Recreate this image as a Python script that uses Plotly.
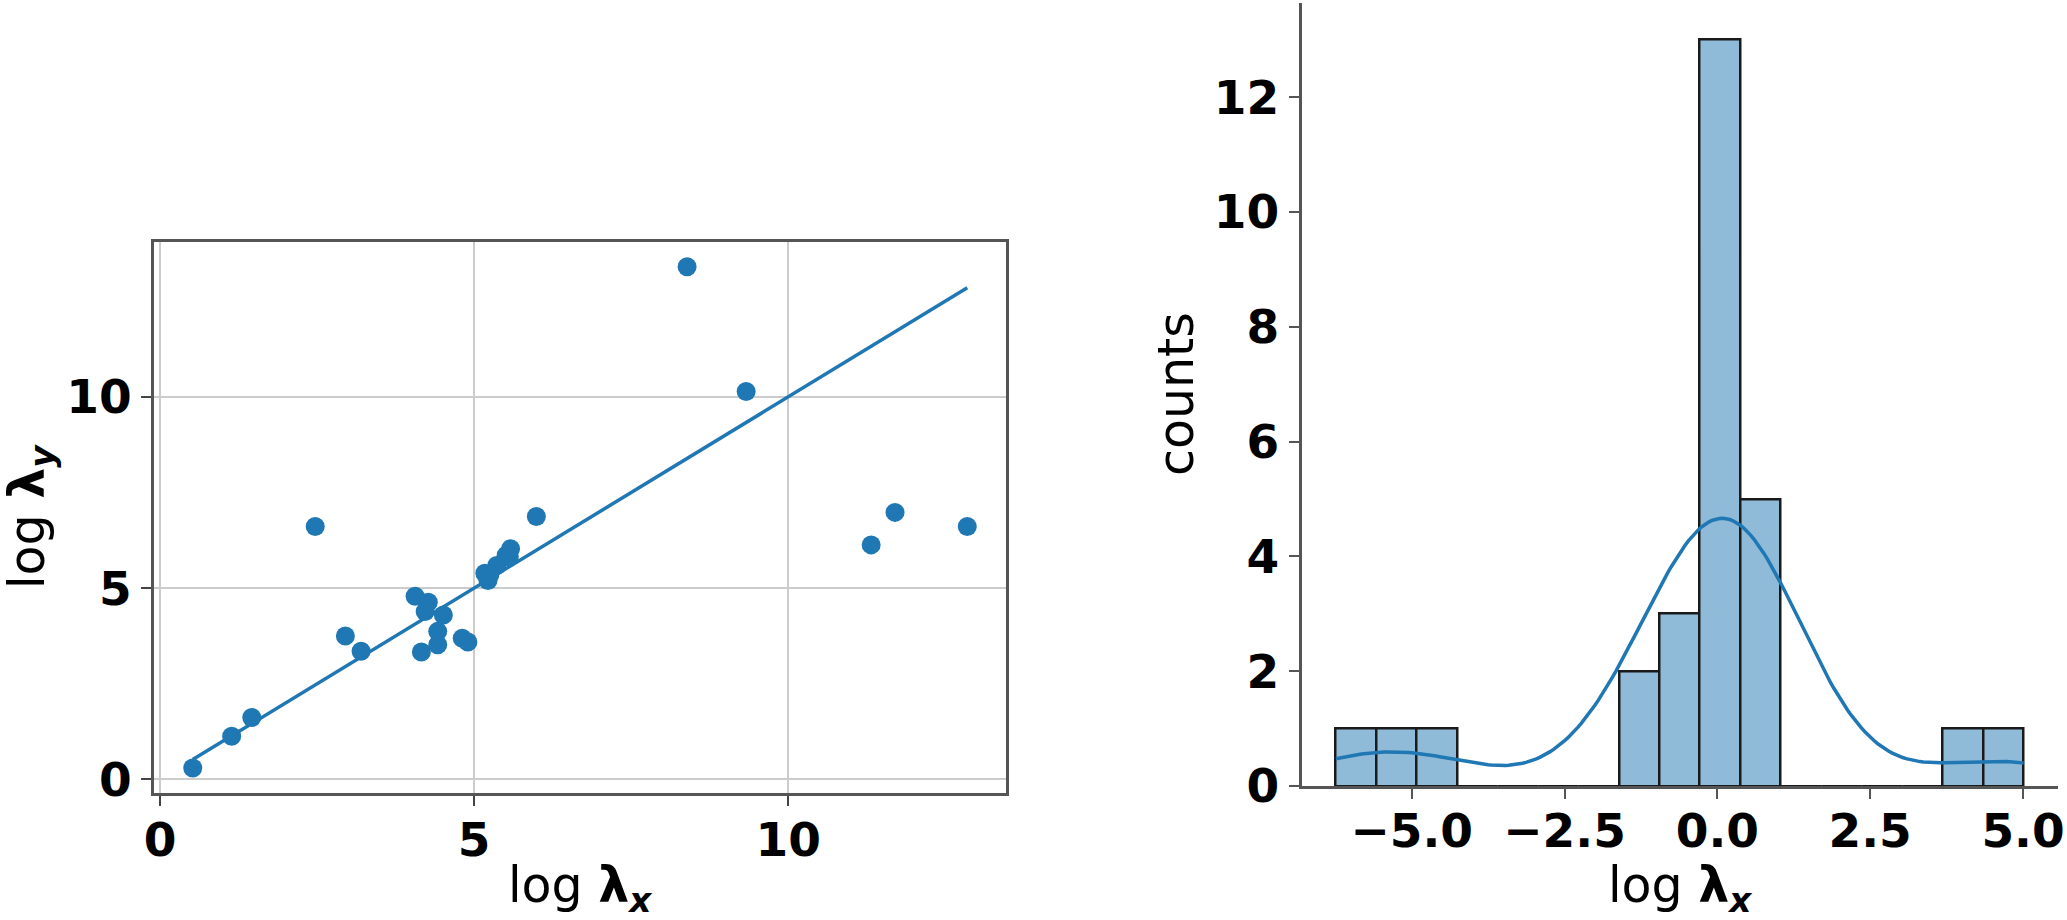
import numpy as np
import plotly.graph_objects as go

W, H = 2067, 920

# log lambda_x / log lambda_y pairs
log_lx = [0.52, 1.14, 1.46, 2.47, 2.95, 3.20, 4.06, 4.16, 4.22, 4.27,
          4.42, 4.42, 4.51, 4.81, 4.90, 5.17, 5.22, 5.36, 5.51, 5.58,
          5.99, 8.39, 9.33, 11.32, 11.70, 12.85, 5.25, 5.56]
log_ly = [0.30, 1.13, 1.62, 6.61, 3.75, 3.35, 4.79, 3.33, 4.39, 4.63,
          3.87, 3.52, 4.30, 3.69, 3.59, 5.39, 5.20, 5.59, 5.86, 6.03,
          6.87, 13.40, 10.14, 6.13, 6.98, 6.61, 5.35, 5.82]
n_bins = 17

lx = np.array(log_lx)
ly = np.array(log_ly)
diff = ly - lx

counts, edges = np.histogram(diff, bins=n_bins)
centers = (edges[:-1] + edges[1:]) / 2
bw = edges[1] - edges[0]

# gaussian kde (scott) scaled to counts, clipped to data range
sd = diff.std(ddof=1) * len(diff) ** (-1 / 5)
grid = np.linspace(diff.min(), diff.max(), 200)
dens = np.exp(-0.5 * ((grid[:, None] - diff[None, :]) / sd) ** 2).sum(axis=1)
dens = dens / (len(diff) * sd * np.sqrt(2 * np.pi))
kde = dens * len(diff) * bw


def px(v):
    return v / W


def py(v):
    return 1 - v / H


blue = "#1f77b4"
tickfont = dict(family="DejaVu Sans", size=47, color="black", weight="bold")
labfont = dict(family="DejaVu Sans", size=49, color="black")

fig = go.Figure()
fig.add_trace(go.Scatter(x=[lx.min(), lx.max()], y=[lx.min(), lx.max()], mode="lines",
                         line=dict(color=blue, width=3.5), xaxis="x", yaxis="y"))
fig.add_trace(go.Scatter(x=lx, y=ly, mode="markers",
                         marker=dict(color=blue, size=19, line=dict(width=0)),
                         xaxis="x", yaxis="y"))
fig.add_trace(go.Bar(x=centers, y=counts, width=bw,
                     marker=dict(color="#8fbbd9", line=dict(color="#1a1a1a", width=2.5)),
                     xaxis="x2", yaxis="y2"))
fig.add_trace(go.Scatter(x=grid, y=kde, mode="lines", line=dict(color=blue, width=3.5),
                         xaxis="x2", yaxis="y2"))

xr = [lx.min() - 0.05 * (lx.max() - lx.min()), lx.max() + 0.05 * (lx.max() - lx.min())]
yr = [ly.min() - 0.05 * (ly.max() - ly.min()), ly.max() + 0.05 * (ly.max() - ly.min())]
dr = [diff.min() - 0.05 * (diff.max() - diff.min()), diff.max() + 0.05 * (diff.max() - diff.min())]

common = dict(tickfont=tickfont, ticks="outside", ticklen=10, tickwidth=2,
              showline=True, linecolor="#555", linewidth=3, zeroline=False, automargin=False)

fig.update_layout(
    width=W, height=H, margin=dict(l=0, r=0, t=0, b=0, autoexpand=False),
    paper_bgcolor="white", plot_bgcolor="white", showlegend=False, bargap=0,
    xaxis=dict(domain=[px(154), px(1006)], range=xr, tickvals=[0, 5, 10],
               tickcolor="#444", mirror=True, ticklabelstandoff=-6,
               showgrid=True, gridcolor="#cccccc", gridwidth=2, **common),
    yaxis=dict(domain=[py(793), py(241.7)], range=yr, tickvals=[0, 5, 10],
               tickcolor="#444", mirror=True,
               showgrid=True, gridcolor="#cccccc", gridwidth=2, **common),
    xaxis2=dict(domain=[px(1301.5), px(2058)], range=dr, tickvals=[-5, -2.5, 0, 2.5, 5],
                tickformat=".1f", anchor="y2", tickcolor="#555", mirror=False,
                ticklabelstandoff=-8, showgrid=False, **common),
    yaxis2=dict(domain=[py(786), py(2.5)], range=[0, counts.max() * 1.05], dtick=2, anchor="x2",
                tickcolor="#555", mirror=False, showgrid=False, **common),
    annotations=[
        dict(text="log <b>λ<sub><i>x</i></sub></b>", x=px(580), y=py(888), xref="paper", yref="paper",
             xanchor="center", yanchor="middle", showarrow=False, font=labfont, borderpad=0),
        dict(text="log <b>λ<sub><i>x</i></sub></b>", x=px(1680), y=py(888), xref="paper", yref="paper",
             xanchor="center", yanchor="middle", showarrow=False, font=labfont, borderpad=0),
        dict(text="log <b>λ<sub><i>y</i></sub></b>", x=px(30), y=py(517), xref="paper", yref="paper",
             xanchor="center", yanchor="middle", showarrow=False, font=labfont, textangle=-90),
        dict(text="counts", x=px(1176), y=py(394), xref="paper", yref="paper",
             xanchor="center", yanchor="middle", showarrow=False, font=labfont, textangle=-90),
    ],
)

fig.write_html("out.html", config={"displayModeBar": False},
               post_script="document.body.style.margin='0';document.body.style.overflow='hidden';")
